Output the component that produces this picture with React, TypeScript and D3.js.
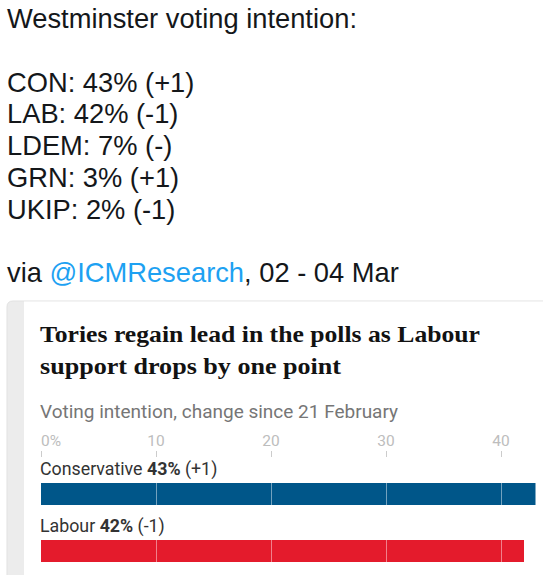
import * as React from 'react';
import { scaleLinear, scaleBand, scaleOrdinal } from 'd3';

// tweet text
const tweetParties = ["CON", "LAB", "LDEM", "GRN", "UKIP"];
const tweetShares = [43, 42, 7, 3, 2];
const tweetChanges = ["+1", "-1", "-", "+1", "-1"];

// guardian card chart
const titleLines = ["Tories regain lead in the polls as Labour", "support drops by one point"];
const parties = ["Conservative", "Labour"];
const shares = [43, 42];
const changes = ["+1", "-1"];
const tickValues = [0, 10, 20, 30, 40];

const W = 543;
const H = 575;

const App = () => {
    const x = scaleLinear().domain([0, 40]).range([41, 501]);
    const row = scaleBand<string>().domain(parties).range([460, 574]);
    const color = scaleOrdinal<string, string>().domain(parties).range(["#005689", "#e41b2c"]);

    const tweetFont = "'Liberation Sans', Arial, sans-serif";
    const sans = "Roboto, sans-serif";
    const lineH = 31.7;
    // the guardian headline face is wider than anything installed, so stretch it
    const titleWidths = [440, 301];

    return (
        <div style={{ position: 'absolute', left: 0, top: 0 }}>
            <svg width={W} height={H} style={{ display: 'block', background: '#fff' }}>
                {/* tweet */}
                <g fontFamily={tweetFont} fontSize={27.3} fill="#14171a">
                    <text x={7} y={28.3}>Westminster voting intention:</text>
                    {tweetParties.map((p, i) => (
                        <text key={p} x={7} y={28.3 + lineH * (i + 2)}>
                            {`${p}: ${tweetShares[i]}% (${tweetChanges[i]})`}
                        </text>
                    ))}
                    <text x={7} y={28.3 + lineH * 8}>
                        via <tspan fill="#1da1f2">@ICMResearch</tspan>, 02 - 04 Mar
                    </text>
                </g>

                {/* card */}
                <path d={`M7,${H + 10} V307 Q7,301 13,301 H${W + 10} V${H + 10} Z`} fill="#ececec" stroke="#e1e1e1" strokeWidth={1} />
                <rect x={24} y={301.5} width={W} height={H} fill="#fff" />

                <g fontFamily="'Liberation Serif', serif" fontWeight="bold" fontSize={24} fill="#121212">
                    {titleLines.map((l, i) => (
                        <text key={i} x={40} y={341.7 + i * 32.6} textLength={titleWidths[i]} lengthAdjust="spacingAndGlyphs">{l}</text>
                    ))}
                </g>
                <text x={40} y={418.3} fontFamily={sans} fontSize={19} fill="#767676">
                    Voting intention, change since 21 February
                </text>

                {/* axis */}
                <g fontFamily={sans} fontSize={15.5} fill="#bdbdbd">
                    {tickValues.map((t, i) => (
                        <g key={t}>
                            <text x={x(t)} y={445.7} textAnchor={i === 0 ? 'start' : 'middle'}>
                                {i === 0 ? `${t}%` : t}
                            </text>
                            <line x1={x(t) + 0.5} x2={x(t) + 0.5} y1={451} y2={457} stroke="#cccccc" />
                        </g>
                    ))}
                </g>

                {/* bars */}
                {parties.map((p, i) => {
                    const y0 = row(p)!;
                    return (
                        <g key={p}>
                            <text x={40} y={y0 + 15} fontFamily={sans} fontSize={17.8} fill="#333">
                                {p} <tspan fontWeight="bold">{shares[i]}%</tspan> ({changes[i]})
                            </text>
                            <rect x={x(0)} y={y0 + 23} width={x(shares[i]) - x(0)} height={22} fill={color(p)} />
                            {tickValues.filter(t => t > 0 && t < shares[i]).map(t => (
                                <line key={t} x1={x(t) + 0.5} x2={x(t) + 0.5} y1={y0 + 23} y2={y0 + 45}
                                    stroke="#fff" strokeOpacity={0.45} />
                            ))}
                        </g>
                    );
                })}
            </svg>
        </div>
    );
};

export default App;
